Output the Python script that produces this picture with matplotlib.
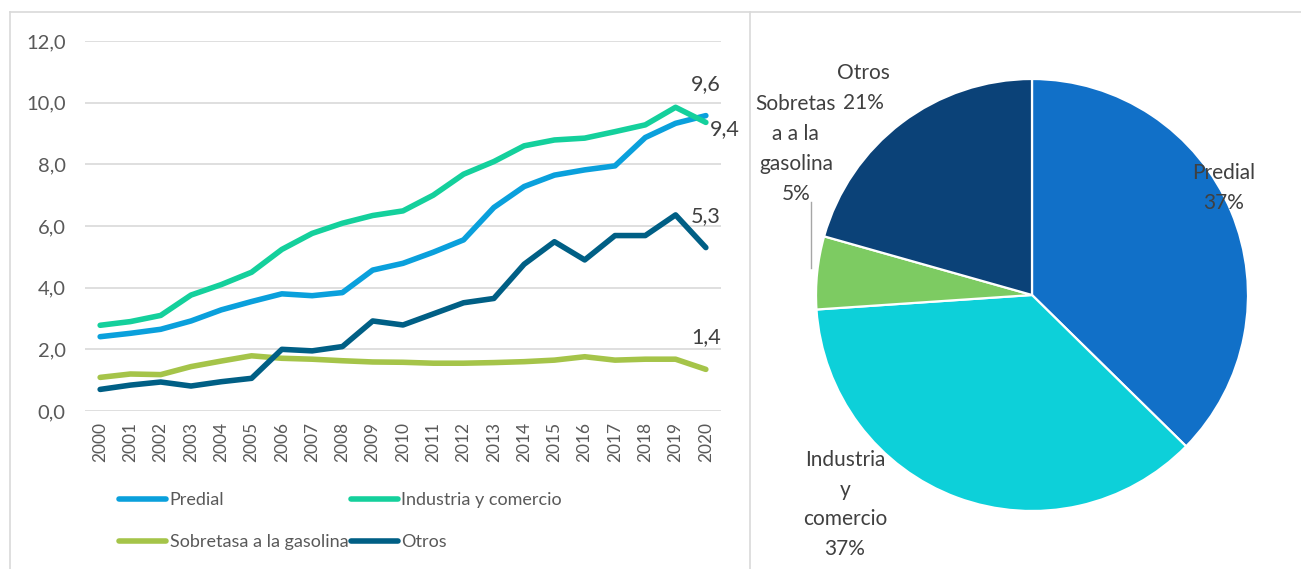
import matplotlib.pyplot as plt
from matplotlib.lines import Line2D

plt.rcParams['font.family'] = ['Lato', 'DejaVu Sans']

years = [str(y) for y in range(2000, 2021)]
predial = [2.41, 2.52, 2.65, 2.92, 3.28, 3.55, 3.80, 3.74, 3.84, 4.57, 4.79,
           5.15, 5.55, 6.60, 7.28, 7.65, 7.82, 7.95, 8.87, 9.33, 9.58]
industria = [2.78, 2.90, 3.10, 3.76, 4.10, 4.50, 5.24, 5.76, 6.09, 6.34, 6.49,
             7.00, 7.68, 8.09, 8.60, 8.79, 8.85, 9.06, 9.28, 9.85, 9.36]
sobretasa = [1.09, 1.20, 1.18, 1.44, 1.62, 1.79, 1.71, 1.68, 1.63, 1.59, 1.58,
             1.55, 1.55, 1.57, 1.60, 1.65, 1.76, 1.65, 1.68, 1.68, 1.35]
otros = [0.70, 0.84, 0.94, 0.81, 0.95, 1.06, 2.00, 1.95, 2.09, 2.92, 2.79,
         3.15, 3.51, 3.65, 4.76, 5.49, 4.90, 5.69, 5.69, 6.36, 5.30]

series_names = ['Predial', 'Industria y comercio', 'Sobretasa a la gasolina', 'Otros']
line_colors = ['#0aa0dc', '#14d09c', '#a5c449', '#005f85']

pie_labels = ['Predial', 'Industria\ny\ncomercio', 'Sobretas\na a la\ngasolina', 'Otros']
pie_values = [9.6, 9.4, 1.4, 5.3]
pie_colors = ['#1170c8', '#0dd0d9', '#7dcb62', '#0b4278']
# label centres in pie-radius units
pie_label_pos = [(0.889, 0.495), (-0.866, -0.970), (-1.093, 0.676), (-0.782, 0.958)]

fig = plt.figure(figsize=(13.01, 5.69), dpi=100)

# ---- line chart ----
ax = fig.add_axes([85 / 1301, 158 / 569, 636 / 1301, 370 / 569])
for name, vals, c in zip(series_names, [predial, industria, sobretasa, otros], line_colors):
    ax.plot(years, vals, color=c, lw=4, solid_capstyle='round', label=name)

ax.set_xlim(-0.5, 20.5)
ax.set_ylim(0, 12)
ax.set_yticks(range(0, 13, 2))
ax.set_yticklabels([f"{v},0" for v in range(0, 13, 2)])
ax.grid(axis='y', color='#d9d9d9', lw=1.2)
ax.set_axisbelow(True)
for s in ax.spines.values():
    s.set_visible(False)
ax.tick_params(axis='y', length=0, pad=14, labelsize=14.5, labelcolor='#595959')
ax.tick_params(axis='x', length=0, pad=8, labelsize=12.5, labelcolor='#595959', labelrotation=90)

def fmt(v):
    return f"{v:.1f}".replace('.', ',')

last = len(years) - 1
lab_kw = dict(textcoords='offset points', va='center', fontsize=15.5, color='#404040')
ax.annotate(fmt(predial[-1]), (last, predial[-1]), xytext=(0, 23), ha='center', **lab_kw)
ax.annotate(fmt(industria[-1]), (last, industria[-1]), xytext=(3, -5), ha='left', **lab_kw)
ax.annotate(fmt(otros[-1]), (last, otros[-1]), xytext=(0, 23), ha='center', **lab_kw)
ax.annotate(fmt(sobretasa[-1]), (last, sobretasa[-1]), xytext=(0, 23), ha='center', **lab_kw)

handles, labels = ax.get_legend_handles_labels()
order = [0, 2, 1, 3]  # legend fills column-wise; this gives row-wise order
leg = fig.legend([handles[i] for i in order], [labels[i] for i in order], ncol=2,
                 loc='upper left', bbox_to_anchor=(119 / 1301, 1 - 492 / 569), frameon=False,
                 fontsize=13, handlelength=2.6, handletextpad=0.2,
                 columnspacing=0.15, labelspacing=1.45, borderpad=0, borderaxespad=0)
for t in leg.get_texts():
    t.set_color('#595959')

# ---- pie chart ----
pax = fig.add_axes([(1032 - 216) / 1301, 58 / 569, 432 / 1301, 432 / 569])
wedges, _ = pax.pie(pie_values, colors=pie_colors, startangle=90, counterclock=False,
                    wedgeprops=dict(edgecolor='white', linewidth=1.6))
pax.set_xlim(-1, 1)
pax.set_ylim(-1, 1)
pax.set_aspect('equal')

total = sum(pie_values)
for lab, v, (px, py) in zip(pie_labels, pie_values, pie_label_pos):
    pax.text(px, py, f"{lab}\n{round(v / total * 100)}%", ha='center', va='center',
             fontsize=15, color='#404040', linespacing=1.62, clip_on=False)
# leader line for the small slice
pax.plot([-1.023, -1.023], [0.43, 0.125], color='#a6a6a6', lw=1, clip_on=False)

# ---- panel borders ----
bc = '#d9d9d9'
fig.add_artist(Line2D([10 / 1301, 10 / 1301], [0, 1 - 12 / 569], color=bc, lw=1.2))
fig.add_artist(Line2D([10 / 1301, 1], [1 - 12 / 569, 1 - 12 / 569], color=bc, lw=1.2))
fig.add_artist(Line2D([750 / 1301, 750 / 1301], [0, 1 - 12 / 569], color=bc, lw=1.2))

fig.savefig('out.png', dpi=100)
